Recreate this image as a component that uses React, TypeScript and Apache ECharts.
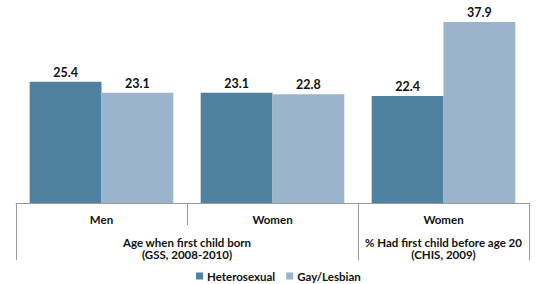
import React, { useEffect, useRef } from "react";
import * as echarts from "echarts";

const categories = ["Men", "Women", "Women"];
const groupLabels = [
  "Age when first child born\n(GSS, 2008-2010)",
  "% Had first child before age 20\n(CHIS, 2009)",
];
const groupLabelPositions = [1, 2.5];
const groupBoundaries = [0, 2, 3];
const heterosexual = [25.4, 23.1, 22.4];
const gayLesbian = [23.1, 22.8, 37.9];

const FONT = "Lato, 'Open Sans', sans-serif";

export default function App() {
  const ref = useRef<HTMLDivElement>(null);
  useEffect(() => {
    if (!ref.current) return;
    const chart = echarts.init(ref.current, null, { renderer: "svg" });
    const labelStyle = {
      show: true,
      position: "top",
      distance: 3,
      fontFamily: FONT,
      fontWeight: "bold",
      fontSize: 12.5,
      color: "#111",
      formatter: (p: any) => p.value.toFixed(1),
    };
    chart.setOption({
      animation: false,
      textStyle: { fontFamily: FONT },
      grid: { left: 16, right: 7, top: 12, bottom: 81 },
      legend: {
        top: 267,
        left: 191,
        padding: [3, 5, 0, 5],
        itemWidth: 7,
        itemHeight: 7,
        itemGap: 11,
        icon: "rect",
        textStyle: { fontFamily: FONT, fontWeight: "bold", fontSize: 11.5, color: "#111", padding: [0, 0, 0, -1] },
        data: ["Heterosexual", "Gay/Lesbian"],
      },
      xAxis: [
        {
          type: "category",
          data: categories,
          position: "bottom",
          axisLine: { show: true, lineStyle: { color: "#9a9a9a", width: 1 } },
          axisTick: { show: true, length: 22, interval: 0, lineStyle: { color: "#9a9a9a" } },
          axisLabel: {
            interval: 0,
            margin: 10,
            fontFamily: FONT,
            fontWeight: "bold",
            fontSize: 11.5,
            color: "#111",
          },
        },
        {
          type: "value",
          min: 0,
          max: 3,
          position: "bottom",
          axisLine: { show: false },
          splitLine: { show: false },
          axisTick: {
            show: true,
            length: 57,
            customValues: groupBoundaries,
            lineStyle: { color: "#9a9a9a" },
          },
          axisLabel: {
            customValues: groupLabelPositions,
            margin: 33,
            fontFamily: FONT,
            fontWeight: "bold",
            fontSize: 11.5,
            lineHeight: 12,
            color: "#111",
            formatter: (v: number) => groupLabels[groupLabelPositions.indexOf(v)] ?? "",
          },
        },
      ],
      yAxis: { type: "value", min: 0, max: 40, show: false, splitLine: { show: false } },
      series: [
        {
          name: "Heterosexual",
          type: "bar",
          data: heterosexual,
          barGap: "0%",
          barCategoryGap: "16%",
          itemStyle: { color: "#5081A1" },
          label: labelStyle,
        },
        {
          name: "Gay/Lesbian",
          type: "bar",
          data: gayLesbian,
          barGap: "0%",
          barCategoryGap: "16%",
          itemStyle: { color: "#9BB3CB" },
          label: labelStyle,
        },
      ],
    });
    return () => chart.dispose();
  }, []);
  return (
    <div
      ref={ref}
      style={{ position: "absolute", left: 0, top: 0, width: 536, height: 284 }}
    />
  );
}
